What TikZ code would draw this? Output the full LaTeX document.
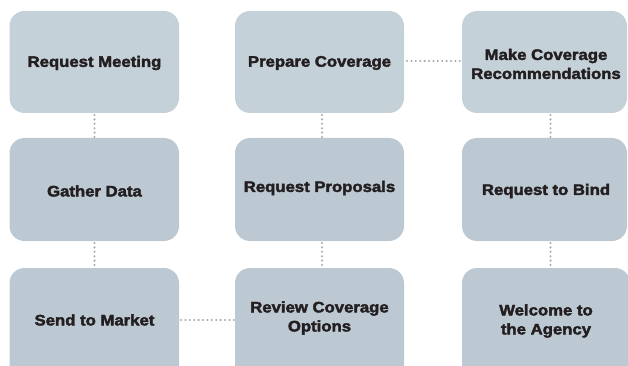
\documentclass[tikz,border=0pt]{standalone}
\usepackage{fontspec}
\setmainfont{Liberation Sans}[BoldFeatures={FakeBold=2.6,FakeStretch=1.1}]
\begin{document}
\definecolor{boxtop}{HTML}{C5D1D9}
\definecolor{boxlow}{HTML}{BCC9D2}
\definecolor{ink}{HTML}{231F20}
\definecolor{dotgray}{HTML}{A9A9A9}
\begin{tikzpicture}[x=1pt,y=-1pt,
  stepbox/.style={rounded corners=15pt, fill=#1, draw=none},
  label/.style={text=ink, font=\bfseries\fontsize{15.2}{19}\selectfont, align=center, inner sep=0pt},
  link/.style={draw=dotgray, line width=2.3pt, dash pattern=on 0pt off 4.4pt, line cap=round}]
\useasboundingbox (0,0) rectangle (628,366);
\clip (0,0) rectangle (628,366);
% columns: 9.5-179, 235-404, 462-627 ; rows: 11-113, 138-241, 268-380
\fill[stepbox=boxtop] (9.5,11) rectangle (179,113);
\fill[stepbox=boxtop] (235,11) rectangle (404,113);
\fill[stepbox=boxtop] (462,11) rectangle (627,113);
\fill[stepbox=boxlow] (9.5,138) rectangle (179,241);
\fill[stepbox=boxlow] (235,138) rectangle (404,241);
\fill[stepbox=boxlow] (462,138) rectangle (627,241);
\fill[stepbox=boxlow] (9.5,268) rectangle (179,385);
\fill[stepbox=boxlow] (235,268) rectangle (404,385);
\fill[stepbox=boxlow] (462,268) rectangle (630,385);
% labels
\node[label] (meet) at (94.5,63) {Request Meeting};
\node[label] (prep) at (319.5,63) {Prepare Coverage};
\node[label] (recs) at (546,64) {Make Coverage\\Recommendations};
\node[label] (data) at (94.5,191) {Gather Data};
\node[label] (prop) at (319.5,188) {Request Proposals};
\node[label] (bind) at (546,191) {Request to Bind};
\node[label] (mkt) at (94.5,320) {Send to Market};
\node[label] (rev) at (319.5,318) {Review Coverage\\Options};
\node[label] (welc) at (546,321) {Welcome to\\the Agency};
% dotted connectors between boxes
\coordinate (c1a) at (94.5,115); \coordinate (c1b) at (94.5,137);
\coordinate (c2a) at (94.5,243); \coordinate (c2b) at (94.5,267);
\coordinate (c3a) at (181,320); \coordinate (c3b) at (234,320);
\coordinate (c4a) at (322,243); \coordinate (c4b) at (322,267);
\coordinate (c5a) at (322,115); \coordinate (c5b) at (322,137);
\coordinate (c6a) at (407,61); \coordinate (c6b) at (463,61);
\coordinate (c7a) at (550.5,115); \coordinate (c7b) at (550.5,137);
\coordinate (c8a) at (550.5,243); \coordinate (c8b) at (550.5,267);
\foreach \a/\b in {c1a/c1b,c2a/c2b,c3a/c3b,c4a/c4b,c5a/c5b,c6a/c6b,c7a/c7b,c8a/c8b}
  \draw[link] (\a) -- (\b);
\end{tikzpicture}
\end{document}
